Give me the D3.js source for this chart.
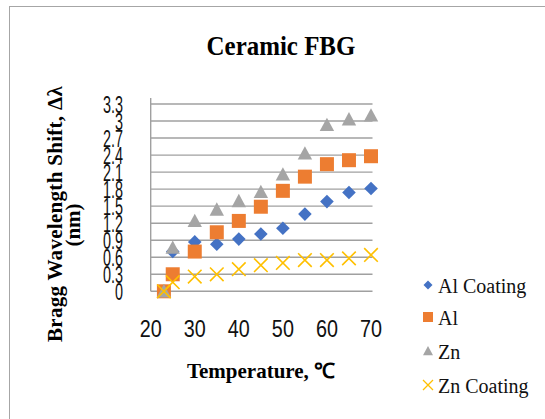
<!DOCTYPE html>
<html>
<head>
<meta charset="utf-8">
<script src="https://cdn.jsdelivr.net/npm/d3@7"></script>
<style>
  html, body { margin: 0; padding: 0; background: #fff; }
  svg { display: block; }
</style>
</head>
<body>
<div id="chart"></div>
<script>
// ---- data ----
const temperatures = [23, 25, 30, 35, 40, 45, 50, 55, 60, 65, 70];
const alCoating = [0, 0.70, 0.87, 0.83, 0.92, 1.01, 1.11, 1.36, 1.58, 1.74, 1.81];
const al        = [0, 0.30, 0.70, 1.04, 1.24, 1.49, 1.77, 2.02, 2.24, 2.31, 2.38];
const zn        = [0, 0.77, 1.24, 1.44, 1.59, 1.75, 2.06, 2.43, 2.93, 3.03, 3.10];
const znCoating = [0, 0.16, 0.26, 0.30, 0.39, 0.46, 0.50, 0.55, 0.55, 0.58, 0.64];
const seriesNames = ["Al Coating", "Al", "Zn", "Zn Coating"];
const xTicks = [20, 30, 40, 50, 60, 70];
const yTicks = [0, 0.3, 0.6, 0.9, 1.2, 1.5, 1.8, 2.1, 2.4, 2.7, 3, 3.3];
const yTickLabels = ["0", "0.3", "0.6", "0.9", "1.2", "1.5", "1.8", "2.1", "2.4", "2.7", "3", "3.3"];

const SERIF = '"Liberation Serif", "Times New Roman", serif';
const SANS = '"Liberation Sans", Arial, sans-serif';

const W = 545, H = 419;
const svg = d3.select("#chart").append("svg").attr("width", W).attr("height", H);

// chart border
svg.append("rect").attr("x", 9.5).attr("y", 6.5).attr("width", W).attr("height", H)
  .attr("fill", "#fff").attr("stroke", "#a6a6a6").attr("stroke-width", 1);

const x = d3.scaleLinear().domain([20, 70]).range([150.7, 371]);
const y = d3.scaleLinear().domain([0, 3.3]).range([291.3, 104]);

// gridlines
svg.append("g").selectAll("line").data(yTicks).join("line")
  .attr("x1", x(20)).attr("x2", 372.5)
  .attr("y1", d => y(d)).attr("y2", d => y(d))
  .attr("stroke", "#a0a0a0").attr("stroke-width", 1.4);

// vertical axis line
svg.append("line").attr("x1", x(20)).attr("x2", x(20))
  .attr("y1", y(3.3) - 6).attr("y2", y(0))
  .attr("stroke", "#a0a0a0").attr("stroke-width", 1.4);

// y tick labels (tall, narrow, overlapping as in the reference)
svg.append("g").selectAll("text").data(yTicks).join("text")
  .style("font-family", SANS)
  .attr("transform", d => `translate(123,${y(d) + 8.5}) scale(0.72,1.2)`)
  .attr("text-anchor", "end")
  .attr("font-size", 20)
  .attr("fill", "#111")
  .text((d, i) => yTickLabels[i]);

// x tick labels
svg.append("g").selectAll("text").data(xTicks).join("text")
  .style("font-family", SANS)
  .attr("transform", d => `translate(${x(d)},337) scale(0.9,1.08)`)
  .attr("text-anchor", "middle")
  .attr("font-size", 22)
  .attr("fill", "#111")
  .text(d => d);

// title
svg.append("text")
  .style("font-family", SERIF)
  .attr("transform", "translate(281,55) scale(0.89,1)")
  .attr("text-anchor", "middle")
  .attr("font-weight", "bold")
  .attr("font-size", 28)
  .attr("fill", "#000")
  .text("Ceramic FBG");

// x axis title
svg.append("text")
  .style("font-family", SERIF)
  .attr("x", 261).attr("y", 378)
  .attr("text-anchor", "middle")
  .attr("font-weight", "bold")
  .attr("font-size", 21)
  .attr("fill", "#000")
  .text("Temperature, ℃");

// y axis title
svg.append("text")
  .style("font-family", SERIF)
  .attr("transform", "translate(62,214) rotate(-90)")
  .attr("text-anchor", "middle")
  .attr("font-weight", "bold")
  .attr("font-size", 21)
  .attr("letter-spacing", 0.3)
  .attr("fill", "#000")
  .text("Bragg Wavelength Shift, Δλ");
svg.append("text")
  .style("font-family", SERIF)
  .attr("transform", "translate(80,225) rotate(-90)")
  .attr("text-anchor", "middle")
  .attr("font-weight", "bold")
  .attr("font-size", 21)
  .attr("fill", "#000")
  .text("(nm)");

// markers
function markerPath(kind, s) {
  if (kind === "diamond") return `M0,${-s}L${s},0L0,${s}L${-s},0Z`;
  if (kind === "square") return `M${-s},${-s}H${s}V${s}H${-s}Z`;
  if (kind === "triangle") return `M0,${-s}L${s},${s * 0.85}L${-s},${s * 0.85}Z`;
  return `M${-s},${-s}L${s},${s}M${s},${-s}L${-s},${s}`;
}
const series = [
  { name: seriesNames[0], values: alCoating, kind: "diamond", color: "#4472C4", size: 6.8 },
  { name: seriesNames[1], values: al, kind: "square", color: "#ED7D31", size: 7 },
  { name: seriesNames[2], values: zn, kind: "triangle", color: "#A5A5A5", size: 7.2 },
  { name: seriesNames[3], values: znCoating, kind: "x", color: "#FFC000", size: 6.8 }
];

series.forEach(s => {
  svg.append("g").selectAll("path").data(s.values).join("path")
    .attr("transform", (v, i) => `translate(${x(temperatures[i])},${y(v)})`)
    .attr("d", markerPath(s.kind, s.size))
    .attr("fill", s.kind === "x" ? "none" : s.color)
    .attr("stroke", s.kind === "x" ? s.color : "none")
    .attr("stroke-width", s.kind === "x" ? 1.6 : 0);
});

// legend
const legendRows = [285, 317, 351, 385];
const legend = svg.append("g");
series.forEach((s, i) => {
  legend.append("path")
    .attr("transform", `translate(428,${legendRows[i]})`)
    .attr("d", markerPath(s.kind, s.kind === "diamond" ? 4.5 : 5))
    .attr("fill", s.kind === "x" ? "none" : s.color)
    .attr("stroke", s.kind === "x" ? s.color : "none")
    .attr("stroke-width", s.kind === "x" ? 1.3 : 0);
  legend.append("text")
    .style("font-family", SERIF)
    .attr("x", 438).attr("y", legendRows[i] + 7.5)
    .attr("font-size", 20)
    .attr("fill", "#111")
    .text(s.name);
});
</script>
</body>
</html>
